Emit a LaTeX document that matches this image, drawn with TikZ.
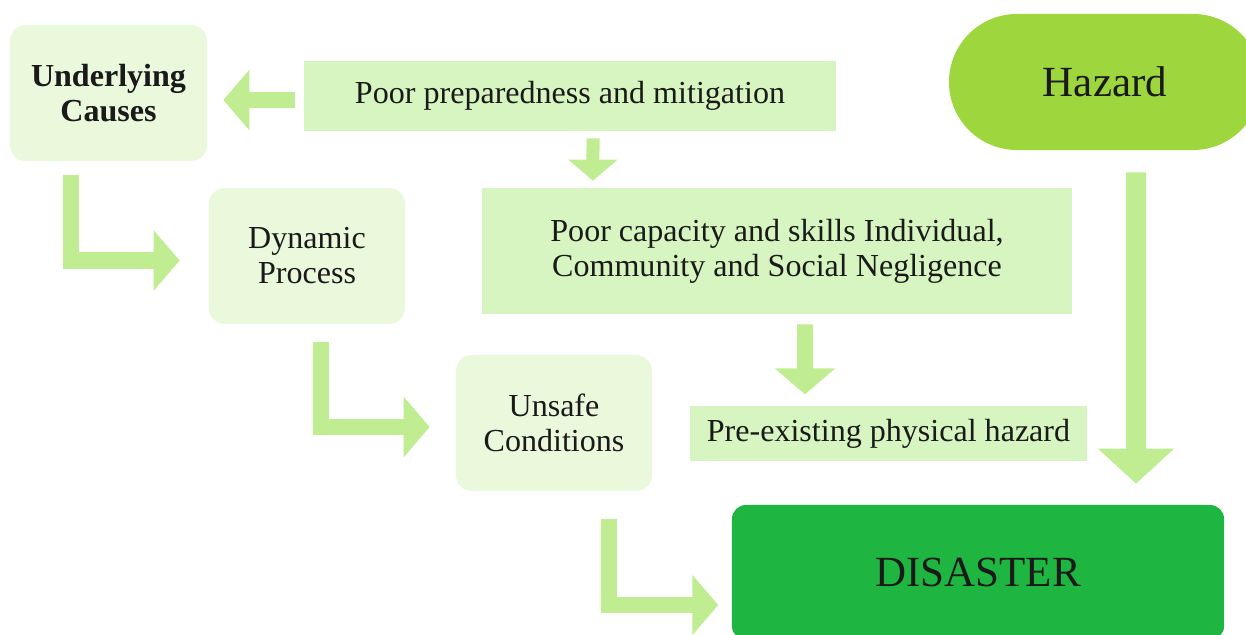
\documentclass[tikz,border=0pt]{standalone}
\usepackage{fontspec}
\setmainfont{Liberation Serif}
\usetikzlibrary{arrows.meta}
\definecolor{lightbox}{HTML}{EAF8DC}
\definecolor{midbox}{HTML}{D6F5C0}
\definecolor{arrowgreen}{HTML}{C0EC92}
\definecolor{hazardgreen}{HTML}{9ED63E}
\definecolor{disgreen}{HTML}{1EB640}
\definecolor{ink}{HTML}{1A1A1A}

\begin{document}
\begin{tikzpicture}[x=0.025cm, y=-0.025cm,
  soft/.style = {fill=lightbox, rounded corners=0.4cm, minimum width=4.9cm, minimum height=3.4cm, inner sep=0pt, align=center, text=ink, font=\fontsize{22.8}{24.9}\selectfont},
  band/.style = {fill=midbox, inner sep=0pt, align=center, text=ink, font=\fontsize{22.8}{24.9}\selectfont},
  big/.style = {inner sep=0pt, text=ink, font=\fontsize{30.6}{33}\selectfont},
  flow/.style = {draw=arrowgreen, line width=0.4cm, line join=miter, -{Triangle[width=1.475cm, length=0.65cm]}}]
  \clip (0,0) rectangle (1246,635);
  \node[soft, minimum width=4.925cm] (uc) at (108.5,93) {\textbf{Underlying}\\\textbf{Causes}};
  \node[soft] (dp) at (307,256) {Dynamic\\Process};
  \node[soft] (us) at (554,423) {Unsafe\\Conditions};
  \node[band, minimum width=13.3cm, minimum height=1.75cm] (ppm) at (570,96) {Poor preparedness and mitigation};
  \node[band, minimum width=14.75cm, minimum height=3.15cm] (pcs) at (777,251) {Poor capacity and skills Individual,\\Community and Social Negligence};
  \node[band, minimum width=9.925cm, minimum height=1.375cm] (peh) at (888.5,433.75) {Pre-existing physical hazard};
  \node[big, fill=hazardgreen, rounded corners=1.7cm, minimum width=7.8cm, minimum height=3.4cm] (hz) at (1105,82) {Hazard};
  \node[big, fill=disgreen, rounded corners=0.35cm, minimum width=12.3cm, minimum height=3.375cm] (dis) at (978,572.5) {DISASTER};

  \draw[flow] ([shift={(-9,4)}]ppm.west) -- ([shift={(16,7)}]uc.east);
  \draw[flow, line width=0.325cm, -{Triangle[width=1.2cm, length=0.525cm]}, shorten <=0.175cm, shorten >=0.175cm] ([xshift=0.575cm]ppm.south) -- ([xshift=-4.6cm]pcs.north);
  \draw[flow, shorten <=0.25cm, shorten >=0.29cm] ([xshift=0.7cm]pcs.south) -- ([xshift=-2.0875cm]peh.north);
  \draw[flow, line width=0.5cm, -{Triangle[width=1.85cm, length=0.875cm]}, shorten <=0.55cm, shorten >=0.525cm] ([xshift=0.775cm]hz.south) -- ([xshift=3.95cm]dis.north);
  \draw[flow, shorten <=0.35cm, shorten >=0.725cm] ([xshift=-0.925cm]uc.south) |- ([yshift=-0.1125cm]dp.west);
  \draw[flow, shorten <=0.45cm, shorten >=0.65cm] ([xshift=0.3375cm]dp.south) |- ([yshift=-0.1cm]us.west);
  \draw[flow, shorten <=0.7cm, shorten >=0.335cm] ([xshift=1.37cm]us.south) |- ([yshift=-0.8125cm]dis.west);
\end{tikzpicture}
\end{document}
